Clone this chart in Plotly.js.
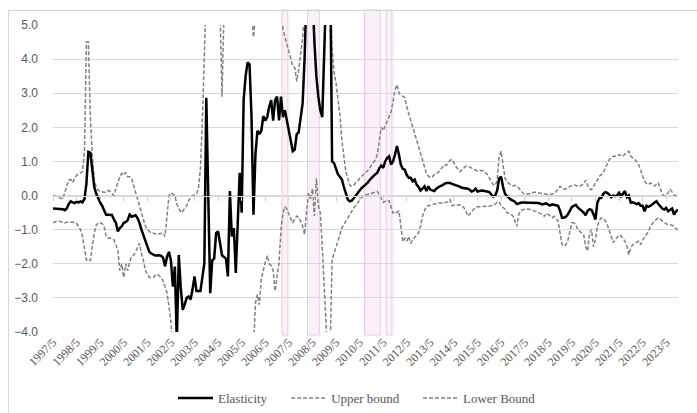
<!DOCTYPE html>
<html><head><meta charset="utf-8">
<script src="https://cdn.plot.ly/plotly-3.0.1.min.js"></script>
<style>
html,body{margin:0;padding:0;overflow:hidden;background:#fff;}
#chart{position:absolute;left:0;top:0;width:697px;height:413px;}
#frame{position:absolute;left:8px;top:10px;width:720px;height:440px;border:1px solid #d6d6d6;pointer-events:none;}
</style></head><body>
<div id="chart"></div><div id="frame"></div>
<script>
// monthly categories 1997/5 .. 2023/11
const startYear = 1997, startMonth = 5, nMonths = 319;
const months = [];
for (let i = 0; i < nMonths; i++) { const t = startMonth - 1 + i; months.push((startYear + Math.floor(t / 12)) + '/' + (t % 12 + 1)); }

const tickLabels = ["1997/5","1998/5","1999/5","2000/5","2001/5","2002/5","2003/5","2004/5","2005/5","2006/5","2007/5","2008/5","2009/5","2010/5","2011/5","2012/5","2013/5","2014/5","2015/5","2016/5","2017/5","2018/5","2019/5","2020/5","2021/5","2022/5","2023/5"];

const elasticity = [
-0.38,-0.38,-0.38,-0.38,-0.39,-0.40,-0.43,-0.38,-0.25,-0.17,-0.2,-0.22,
-0.18,-0.2,-0.17,-0.2,-0.1,0.35,1.28,1.25,0.75,0.25,0.05,-0.1,
-0.2,-0.3,-0.45,-0.56,-0.56,-0.56,-0.57,-0.7,-0.8,-1.05,-0.95,-0.9,
-0.8,-0.78,-0.72,-0.56,-0.62,-0.6,-0.58,-0.66,-0.8,-1.0,-1.15,-1.35,
-1.5,-1.65,-1.7,-1.74,-1.76,-1.76,-1.75,-1.77,-1.82,-2.07,-1.8,-1.65,
-1.9,-2.67,-2.08,-4.3,-1.74,-2.7,-3.35,-3.2,-3.0,-2.96,-3.05,-2.75,
-2.37,-2.8,-2.81,-2.8,-2.4,-1.98,2.87,-0.1,-2.86,-1.9,-1.85,-1.1,
-1.05,-1.4,-1.75,-1.8,-1.85,-2.37,0.13,-1.2,-0.95,-2.27,-0.7,0.67,
-0.5,2.8,3.5,3.9,3.85,2.3,-0.56,1.2,1.9,1.8,1.9,2.33,
2.2,2.3,2.6,2.8,2.2,2.8,2.9,2.2,2.9,2.3,2.5,2.2,
1.9,1.5,1.3,1.35,1.8,1.85,2.3,2.7,4.0,6.5,8,7,
6,4.5,3.5,2.9,2.5,2.3,3.8,6.5,8,7,1.0,0.95,
0.75,0.62,0.55,0.47,0.25,0.05,-0.12,-0.17,-0.15,-0.08,0.0,0.08,
0.15,0.22,0.27,0.32,0.37,0.45,0.52,0.57,0.62,0.67,0.8,0.88,
0.81,1.0,1.1,1.15,0.91,1.0,1.2,1.45,1.2,0.9,0.78,0.76,
0.6,0.52,0.52,0.42,0.47,0.32,0.25,0.15,0.2,0.27,0.13,0.27,
0.17,0.15,0.13,0.2,0.25,0.28,0.3,0.33,0.37,0.37,0.37,0.34,
0.32,0.32,0.3,0.26,0.23,0.22,0.22,0.2,0.17,0.12,0.14,0.2,
0.12,0.14,0.15,0.14,0.13,0.12,0.1,0.03,-0.03,0.0,0.15,0.5,
0.55,0.25,0.05,-0.02,-0.08,-0.12,-0.15,-0.18,-0.25,-0.22,-0.21,-0.2,
-0.2,-0.2,-0.2,-0.2,-0.2,-0.21,-0.22,-0.22,-0.24,-0.26,-0.24,-0.23,
-0.27,-0.29,-0.26,-0.27,-0.29,-0.3,-0.45,-0.65,-0.65,-0.62,-0.55,-0.45,
-0.33,-0.3,-0.27,-0.35,-0.4,-0.45,-0.5,-0.58,-0.45,-0.4,-0.42,-0.55,
-0.7,-0.2,-0.08,-0.07,0.05,0.1,0.08,0.03,-0.05,0.0,-0.02,0.0,
0.08,-0.02,0.05,0.13,-0.05,0.0,-0.21,-0.2,-0.22,-0.25,-0.22,-0.3,
-0.3,-0.46,-0.3,-0.33,-0.3,-0.26,-0.2,-0.17,-0.25,-0.33,-0.38,-0.41,
-0.36,-0.46,-0.42,-0.38,-0.56,-0.46,-0.42];

const upperBound = [
0.0,-0.02,-0.05,-0.08,-0.1,-0.1,0.1,0.3,0.45,0.47,0.38,0.5,
0.6,0.62,0.65,0.7,1.3,4.5,4.5,2.3,1.2,0.45,0.25,0.15,
0.12,0.1,0.1,0.1,0.15,0.12,0.05,0.0,0.2,0.4,0.55,0.65,
0.6,0.68,0.55,0.55,0.5,0.3,0.1,-0.05,-0.3,-0.5,-0.7,-0.9,
-1.0,-1.05,-1.1,-1.1,-1.13,-1.15,-1.12,-1.1,-1.1,-1.2,-0.6,0.0,
0.08,0.05,0.0,-0.25,-0.4,-0.5,-0.45,-0.38,-0.3,-0.15,-0.05,0.0,
0.02,0.05,0.2,0.8,2.2,4.0,6,6,6,6,6,6,
6,5.4,2.9,5.4,6,6,6,6,6,6,6,6,
6,6,6,6,6,5.3,4.65,5.3,6,6,6,6,
6,6,6,6,6,6,6,6,5.5,4.9,4.65,4.45,
4.28,4.05,3.8,3.75,3.35,3.7,4.2,4.6,5.5,6,6,6,
6,6,6,6,6,6,6,6,6,6,4.3,3.6,
3.3,2.8,2.35,1.6,1.1,0.7,0.5,0.3,0.27,0.3,0.38,0.42,
0.5,0.57,0.62,0.68,0.72,0.8,0.86,0.95,1.05,1.2,1.6,2.0,
1.9,2.05,2.15,2.3,2.45,2.75,3.1,3.25,3.0,2.95,2.9,2.87,
2.6,2.4,2.2,2.0,1.85,1.65,1.45,1.2,1.0,0.8,0.65,0.57,
0.52,0.55,0.62,0.65,0.68,0.75,0.82,0.9,0.88,0.95,1.03,1.06,
0.95,0.85,0.78,0.7,0.76,0.82,0.86,0.86,0.84,0.82,0.78,0.75,
0.72,0.72,0.74,0.72,0.68,0.62,0.52,0.42,0.32,0.3,0.45,1.15,
1.3,0.9,0.5,0.42,0.35,0.32,0.28,0.3,0.28,0.22,0.13,0.08,
0.03,0.03,0.05,0.06,0.08,0.1,0.09,0.08,0.07,0.05,0.03,0.03,
0.03,0.03,0.05,0.06,0.12,0.18,0.27,0.22,0.18,0.2,0.22,0.27,
0.3,0.32,0.3,0.27,0.28,0.3,0.35,0.45,0.3,0.2,0.17,0.25,
0.38,0.45,0.57,0.62,0.66,0.8,0.92,1.05,1.1,1.15,1.15,1.15,
1.2,1.18,1.15,1.22,1.27,1.3,1.15,1.1,1.05,1.0,0.9,0.75,
0.55,0.42,0.35,0.32,0.37,0.33,0.28,0.33,0.37,0.2,0.05,-0.02,
0.02,0.08,0.18,0.08,0.02,-0.02,0.05];

const lowerBound = [
-0.8,-0.77,-0.75,-0.75,-0.76,-0.78,-0.8,-0.78,-0.77,-0.78,-0.78,-0.78,
-0.82,-0.9,-1.0,-1.2,-1.5,-1.88,-1.93,-1.9,-1.5,-1.1,-0.87,-0.8,
-0.8,-0.82,-0.9,-1.2,-1.25,-1.24,-1.27,-1.3,-1.45,-1.6,-2.2,-2.0,
-2.4,-2.0,-2.2,-1.95,-1.8,-1.75,-1.65,-1.5,-1.4,-1.7,-1.9,-2.2,
-2.3,-2.4,-2.4,-2.4,-2.35,-2.3,-2.35,-2.4,-2.5,-2.7,-2.85,-3.25,
-3.7,-4.5,-5,-5,-5,-5,-5,-5,-5,-5,-5,-5,
-5,-5,-5,-5,-5,-5,-5,-5,-5,-5,-5,-5,
-5,-5,-5,-5,-5,-5,-5,-5,-5,-5,-5,-5,
-5,-5,-5,-5,-5,-5,-4.5,-3.15,-2.9,-3.2,-2.43,-2.15,
-1.96,-1.76,-2.0,-2.05,-2.2,-2.8,-2.34,-1.96,-1.0,-0.5,-0.33,-0.4,
-0.55,-0.7,-0.8,-0.68,-0.6,-0.65,-0.75,-0.9,-1.14,-0.5,0.08,-0.12,
0.2,-0.6,0.5,-0.3,-0.5,-1.5,-3.0,-4.5,-5,-4.5,-1.88,-1.7,
-1.5,-1.3,-1.1,-0.95,-0.85,-0.75,-0.65,-0.56,-0.45,-0.36,-0.3,-0.22,
-0.14,-0.06,-0.02,0.02,0.03,0.05,0.07,0.08,0.11,0.12,0.03,-0.1,
-0.2,-0.17,-0.14,-0.15,-0.35,-0.51,-0.46,-0.5,-0.45,-0.9,-1.35,-1.25,
-1.34,-1.2,-1.4,-1.3,-1.24,-1.15,-1.1,-0.9,-0.6,-0.45,-0.32,-0.3,
-0.28,-0.26,-0.25,-0.24,-0.22,-0.22,-0.23,-0.22,-0.2,-0.18,-0.12,-0.3,
-0.28,-0.27,-0.27,-0.27,-0.3,-0.35,-0.45,-0.6,-0.55,-0.46,-0.4,-0.36,
-0.33,-0.33,-0.32,-0.31,-0.31,-0.31,-0.31,-0.3,-0.29,-0.25,-0.2,-0.18,
-0.3,-0.35,-0.4,-0.5,-0.52,-0.55,-0.6,-0.75,-0.9,-0.55,-0.45,-0.41,
-0.4,-0.4,-0.4,-0.41,-0.43,-0.46,-0.48,-0.51,-0.51,-0.55,-0.61,-0.52,
-0.55,-0.6,-0.65,-0.61,-0.68,-0.75,-1.1,-1.45,-1.48,-1.44,-1.3,-1.05,
-0.8,-0.8,-0.85,-1.0,-1.05,-1.08,-1.15,-1.5,-1.63,-1.1,-1.0,-1.5,
-1.3,-0.9,-0.72,-0.65,-0.7,-0.73,-0.85,-1.0,-1.2,-1.38,-1.3,-1.2,
-1.15,-1.18,-1.25,-1.34,-1.48,-1.73,-1.53,-1.44,-1.4,-1.36,-1.34,-1.44,
-1.3,-1.22,-1.15,-1.05,-0.9,-0.82,-0.75,-0.7,-0.65,-0.7,-0.75,-0.8,
-0.83,-0.85,-0.85,-0.87,-0.9,-0.97,-1.0];

// shaded periods (first and last month of each)
const bandStart = ["2007/2","2008/3","2010/8","2011/7"];
const bandEnd   = ["2007/4","2008/8","2011/3","2011/9"];

const tickIdx = tickLabels.map(l => months.indexOf(l));
const gray = '#808080';
const traces = [
  {x: months, y: elasticity, name: 'Elasticity', type: 'scatter', mode: 'lines',
   line: {color: '#000000', width: 2.5}, legend: 'legend'},
  {x: months, y: upperBound, name: 'Upper bound', type: 'scatter', mode: 'lines',
   line: {color: gray, width: 1.5, dash: '4px,2px'}, legend: 'legend2'},
  {x: months, y: lowerBound, name: 'Lower Bound', type: 'scatter', mode: 'lines',
   line: {color: gray, width: 1.5, dash: '4px,2px'}, legend: 'legend3'}
];
// invisible carrier so the horizontal axis drawn at zero (xaxis2) exists
const axisCarrier = {x: tickIdx, y: tickIdx.map(() => 0), xaxis: 'x2', yaxis: 'y', type: 'scatter',
  mode: 'none', showlegend: false, hoverinfo: 'skip'};
const data = [axisCarrier, traces[1], traces[2], traces[0]];

const shapes = bandStart.map((s, i) => ({
  type: 'rect', xref: 'x', yref: 'paper', layer: 'below',
  x0: months.indexOf(s) - 0.5, x1: months.indexOf(bandEnd[i]) + 0.5,
  y0: -0.01, y1: 1.049,
  fillcolor: '#faf0f8', line: {color: '#efc8e7', width: 1}
}));

const legFont = {family: 'Liberation Serif, Times New Roman, serif', size: 13, color: '#595959'};
const legBase = {orientation: 'h', xanchor: 'left', yanchor: 'middle', y: -0.215, font: legFont,
  bgcolor: 'rgba(0,0,0,0)', itemwidth: 35};

const layout = {
  width: 697, height: 413,
  margin: {l: 53, r: 19, t: 25, b: 81, autoexpand: false},
  paper_bgcolor: 'rgba(0,0,0,0)', plot_bgcolor: 'rgba(0,0,0,0)',
  showlegend: true,
  xaxis: {type: 'category', range: [0, nMonths - 1], tickmode: 'array', tickvals: tickLabels, ticktext: tickLabels,
    tickangle: -45, showgrid: false, zeroline: false, showline: false, ticks: '', automargin: false,
    tickfont: {family: 'Liberation Serif, Times New Roman, serif', size: 12, color: '#595959'}},
  xaxis2: {overlaying: 'x', anchor: 'free', position: 4 / 9, type: 'linear', range: [0, nMonths - 1],
    tickmode: 'array', tickvals: tickIdx, showticklabels: false, ticks: 'outside', ticklen: 4, automargin: false,
    tickcolor: '#d0d0d0', showline: true, linecolor: '#d9d9d9', linewidth: 1, showgrid: false, zeroline: false},
  yaxis: {range: [-4, 5], dtick: 1, tickformat: '.1f', gridcolor: '#d9d9d9', gridwidth: 1, zeroline: false,
    showline: false, ticks: '', ticklabelstandoff: 14, automargin: false,
    tickfont: {family: 'Liberation Sans, Arial, sans-serif', size: 12, color: '#595959'}},
  legend: Object.assign({}, legBase, {x: 0.192}),
  legend2: Object.assign({}, legBase, {x: 0.373}),
  legend3: Object.assign({}, legBase, {x: 0.584}),
  shapes: shapes
};

Plotly.newPlot('chart', data, layout, {displayModeBar: false, staticPlot: true});
</script>
</body></html>
